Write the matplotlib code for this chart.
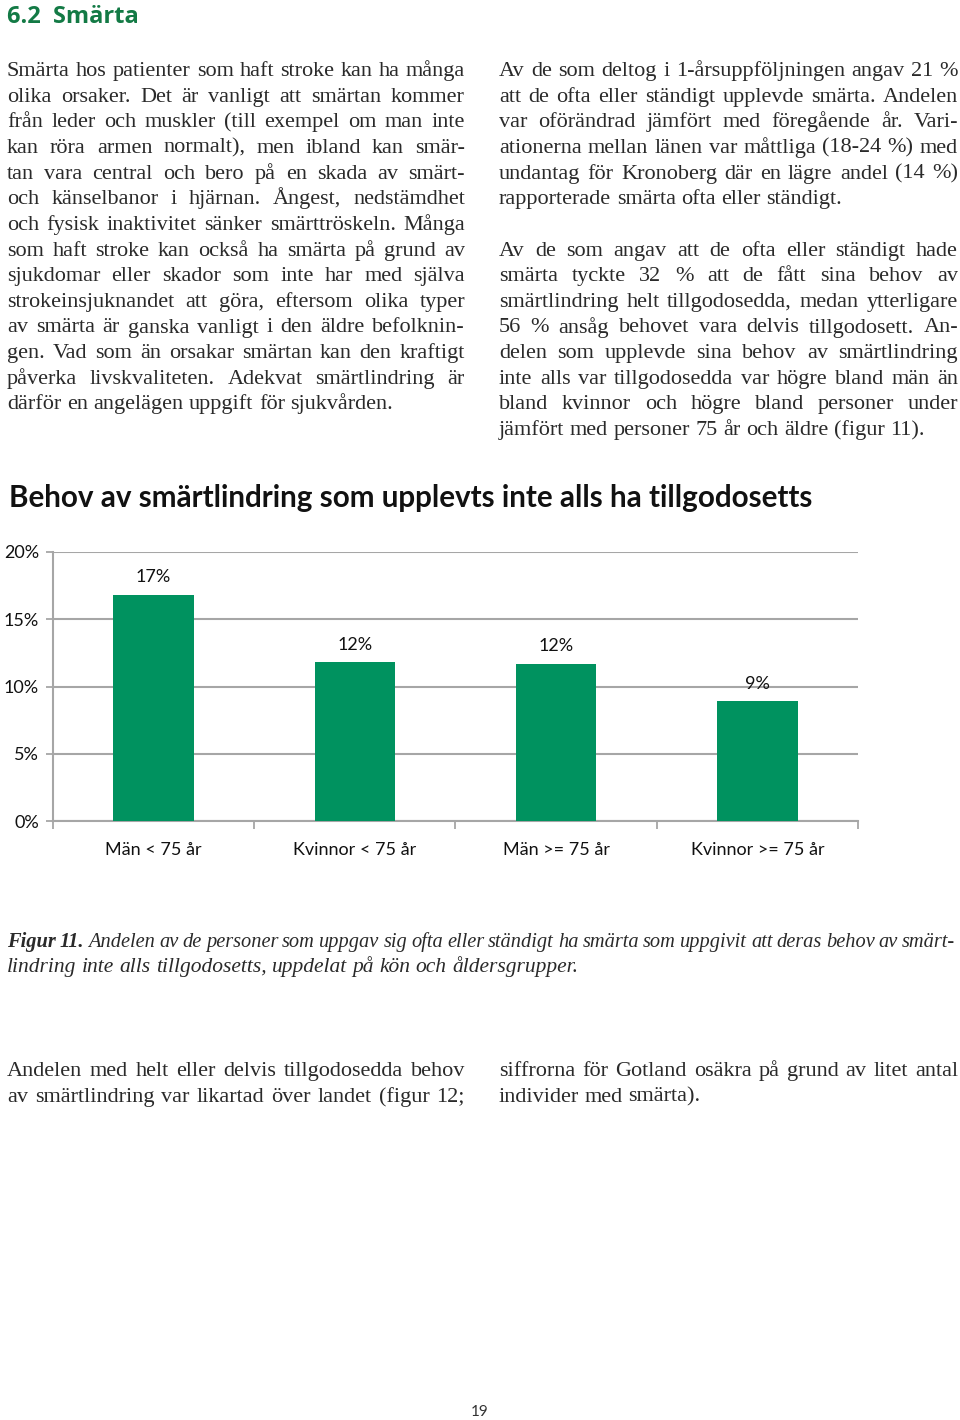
import matplotlib
matplotlib.use("Agg")
import matplotlib.pyplot as plt

# chart data
categories = ["Män < 75 år", "Kvinnor < 75 år", "Män >= 75 år", "Kvinnor >= 75 år"]
values = [16.8, 11.8, 11.7, 8.9]
yticks = [0, 5, 10, 15, 20]

heading = "6.2  Smärta"
chart_title = "Behov av smärtlindring som upplevts inte alls ha tillgodosetts"

left_col = [
    "Smärta hos patienter som haft stroke kan ha många",
    "olika orsaker. Det är vanligt att smärtan kommer",
    "från leder och muskler (till exempel om man inte",
    "kan röra armen normalt), men ibland kan smär-",
    "tan vara central och bero på en skada av smärt-",
    "och känselbanor i hjärnan. Ångest, nedstämdhet",
    "och fysisk inaktivitet sänker smärttröskeln. Många",
    "som haft stroke kan också ha smärta på grund av",
    "sjukdomar eller skador som inte har med själva",
    "strokeinsjuknandet att göra, eftersom olika typer",
    "av smärta är ganska vanligt i den äldre befolknin-",
    "gen. Vad som än orsakar smärtan kan den kraftigt",
    "påverka livskvaliteten. Adekvat smärtlindring är",
    "därför en angelägen uppgift för sjukvården.",
]
right_col_1 = [
    "Av de som deltog i 1-årsuppföljningen angav 21 %",
    "att de ofta eller ständigt upplevde smärta. Andelen",
    "var oförändrad jämfört med föregående år. Vari-",
    "ationerna mellan länen var måttliga (18-24 %) med",
    "undantag för Kronoberg där en lägre andel (14 %)",
    "rapporterade smärta ofta eller ständigt.",
]
right_col_2 = [
    "Av de som angav att de ofta eller ständigt hade",
    "smärta tyckte 32 % att de fått sina behov av",
    "smärtlindring helt tillgodosedda, medan ytterligare",
    "56 % ansåg behovet vara delvis tillgodosett. An-",
    "delen som upplevde sina behov av smärtlindring",
    "inte alls var tillgodosedda var högre bland män än",
    "bland kvinnor och högre bland personer under",
    "jämfört med personer 75 år och äldre (figur 11).",
]
caption_lead = "Figur 11."
caption = [
    "Andelen av de personer som uppgav sig ofta eller ständigt ha smärta som uppgivit att deras behov av smärt-",
    "lindring inte alls tillgodosetts, uppdelat på kön och åldersgrupper.",
]
bottom_left = [
    "Andelen med helt eller delvis tillgodosedda behov",
    "av smärtlindring var likartad över landet (figur 12;",
]
bottom_right = [
    "siffrorna för Gotland osäkra på grund av litet antal",
    "individer med smärta).",
]

W, H = 960, 1420
fig = plt.figure(figsize=(W / 100, H / 100), dpi=100)
renderer = fig.canvas.get_renderer()

serif = "Liberation Serif"
textcol = "#2a2a2a"


def put_line(words, x0, x1, y, justify, size, style="normal"):
    # words: list of (text, weight); y is baseline in pixels from top
    def measure(sz):
        ts = []
        for w, wt in words:
            t = fig.text(0, 0, w, transform=None, fontsize=sz, family=serif,
                         style=style, weight=wt, color=textcol, va="baseline")
            ts.append(t)
        ws = [t.get_window_extent(renderer).width for t in ts]
        return ts, ws

    ts, ws = measure(size)
    space = 0.25 * size * 100 / 72
    if sum(ws) + space * 0.8 * (len(ws) - 1) > x1 - x0:
        for t in ts:
            t.remove()
        size = size * (x1 - x0) / (sum(ws) + space * 0.8 * (len(ws) - 1))
        ts, ws = measure(size)
        space = 0.25 * size * 100 / 72
    if justify and len(ws) > 1:
        gap = (x1 - x0 - sum(ws)) / (len(ws) - 1)
    else:
        gap = space
    x = x0
    for t, w in zip(ts, ws):
        t.set_position((x, H - y))
        x += w + gap


def put_paragraph(lines, x0, x1, y0, pitch, size, style="normal", last_justify=False):
    for i, line in enumerate(lines):
        words = [(w, "normal") for w in line.split()]
        last = i == len(lines) - 1
        put_line(words, x0, x1, y0 + i * pitch, (not last) or last_justify, size, style)


pitch = 25.65
put_paragraph(left_col, 7, 465, 76, pitch, 16)
put_paragraph(right_col_1, 499, 958, 76, pitch, 16)
put_paragraph(right_col_2, 499, 958, 76 + 7 * pitch, pitch, 16)

# caption
cap_words = [(w, "bold") for w in caption_lead.split()] + [(w, "normal") for w in caption[0].split()]
put_line(cap_words, 7, 955, 947, True, 15.5, style="italic")
put_line([(w, "normal") for w in caption[1].split()], 7, 955, 972, False, 15.5, style="italic")

# bottom paragraphs
put_paragraph(bottom_left, 7, 465, 1076, pitch, 16, last_justify=True)
put_paragraph(bottom_right, 499, 958, 1076, pitch, 16)

# headings
fig.text(7 / W, 1 - 23 / H, heading, fontsize=17, family="Open Sans", weight="bold",
         color="#137a45", va="baseline")
fig.text(9 / W, 1 - 507 / H, chart_title, fontsize=21.3, family="Lato", weight="bold",
         color="#111111", va="baseline")
fig.text(480 / W, 1 - 1416 / H, "19", fontsize=11, family="Lato", color="#333333",
         ha="center", va="baseline")

# bar chart
ax = fig.add_axes([53 / W, 1 - 821 / H, (858 - 53) / W, (821 - 552) / H])
x = list(range(len(categories)))
bars = ax.bar(x, values, width=0.4, color="#00925f", zorder=3)
for b, v in zip(bars, values):
    ax.annotate(f"{v:.0f}%", (b.get_x() + b.get_width() / 2, v), xytext=(0, 7),
                textcoords="offset points", ha="center", va="bottom",
                fontsize=13, family="Lato", color="#111111")

ax.set_xlim(-0.5, len(categories) - 0.5)
ax.set_ylim(0, 20)
ax.set_yticks(yticks)
ax.set_yticklabels([f"{t}%" for t in yticks], fontsize=13, family="Lato", color="#111111")
ax.set_xticks(x)
ax.set_xticklabels(categories, fontsize=13, family="Lato", color="#111111")
ax.set_xticks([i - 0.5 for i in range(len(categories) + 1)], minor=True)
ax.tick_params(axis="x", which="major", length=0, pad=15)
ax.tick_params(axis="x", which="minor", length=6, width=1.3, color="#a6a6a6")
ax.tick_params(axis="y", length=5, width=1.3, color="#a6a6a6", pad=5)
ax.grid(axis="y", color="#a6a6a6", linewidth=1.5, zorder=0)
for s in ["top", "right"]:
    ax.spines[s].set_visible(False)
for s in ["left", "bottom"]:
    ax.spines[s].set_color("#a6a6a6")
    ax.spines[s].set_linewidth(1.5)

fig.savefig("out.png", dpi=100)
